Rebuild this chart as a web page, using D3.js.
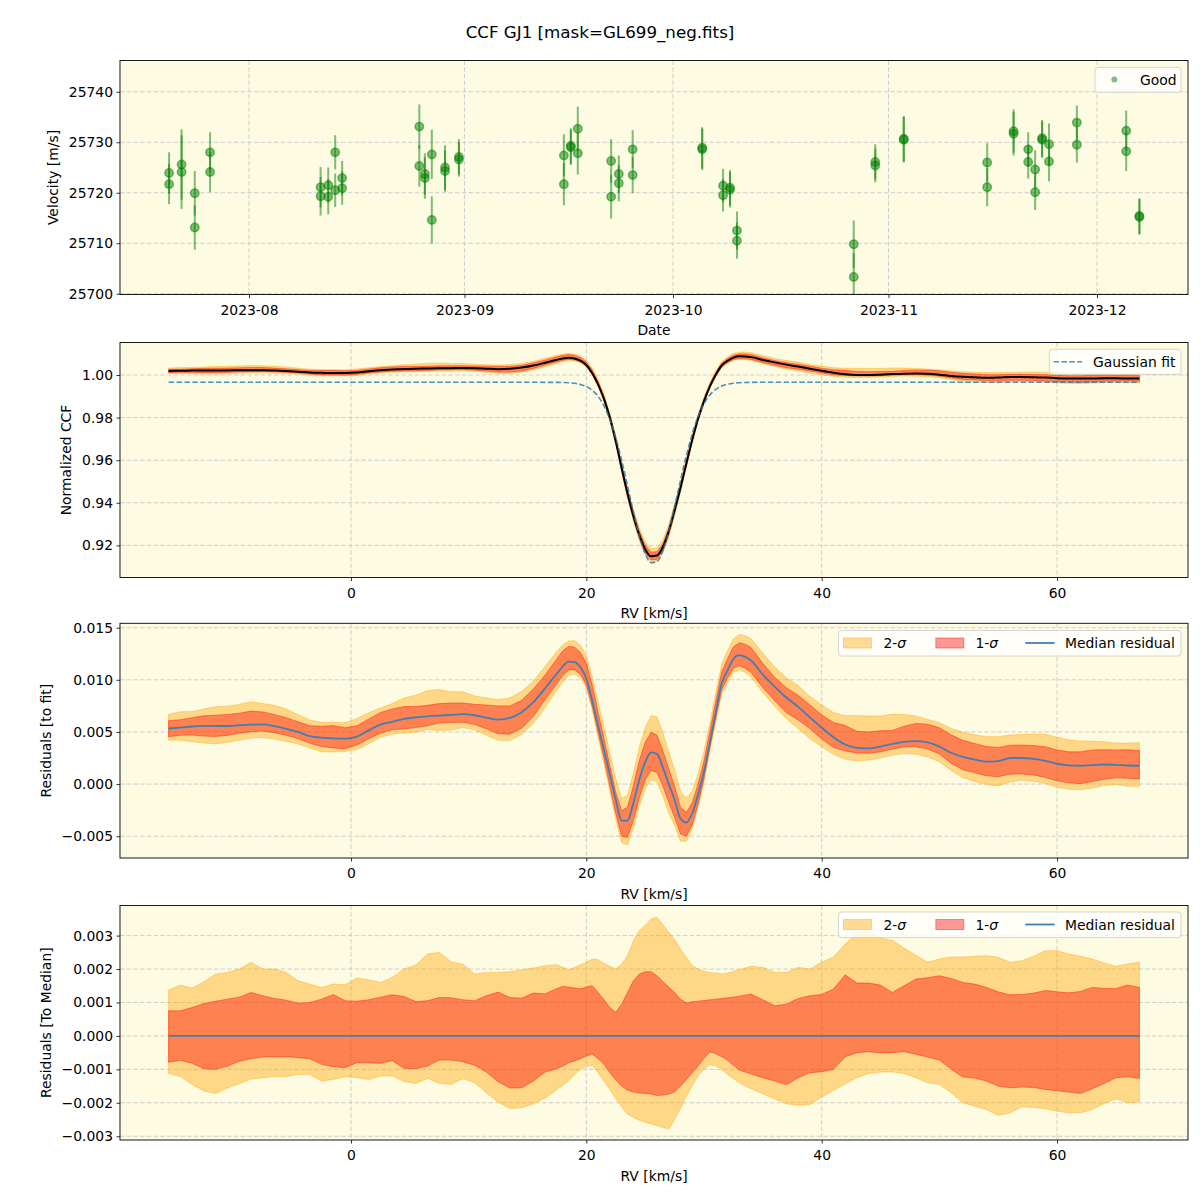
<!DOCTYPE html>
<html><head><meta charset="utf-8">
<script src="https://cdn.jsdelivr.net/npm/d3@7"></script>
<style>
body{margin:0;background:#fff}
text{font-family:"DejaVu Sans",sans-serif}
</style>
</head><body>
<svg id="c" width="1200" height="1200"></svg>
<script>
// ---------------- DATA ----------------
const chartTitle = "CCF GJ1 [mask=GL699_neg.fits]";

// Panel 1: RV time series
const obsDate = [
 "2023-07-20T12:00","2023-07-20T12:00","2023-07-22T07:12","2023-07-22T07:12",
 "2023-07-24T04:48","2023-07-24T04:48","2023-07-26T09:36","2023-07-26T09:36",
 "2023-08-11T07:12","2023-08-11T07:12","2023-08-12T09:36","2023-08-12T09:36",
 "2023-08-13T09:36","2023-08-13T09:36","2023-08-14T09:36","2023-08-14T09:36",
 "2023-08-25T12:00","2023-08-25T12:00","2023-08-26T07:12","2023-08-26T07:12",
 "2023-08-27T07:12","2023-08-27T07:12","2023-08-29T04:48","2023-08-29T04:48",
 "2023-08-31T04:48","2023-08-31T04:48","2023-09-15T07:12","2023-09-15T07:12",
 "2023-09-16T07:12","2023-09-16T07:12","2023-09-17T07:12","2023-09-17T07:12",
 "2023-09-22T02:24","2023-09-22T02:24","2023-09-23T04:48","2023-09-23T04:48",
 "2023-09-25T04:48","2023-09-25T04:48","2023-10-05T04:48","2023-10-05T04:48",
 "2023-10-08T04:48","2023-10-08T04:48","2023-10-09T04:48","2023-10-09T04:48",
 "2023-10-10T04:48","2023-10-10T04:48","2023-10-27T00:00","2023-10-27T00:00",
 "2023-10-30T02:24","2023-10-30T02:24","2023-11-03T04:48","2023-11-03T04:48",
 "2023-11-15T04:48","2023-11-15T04:48","2023-11-19T00:00","2023-11-19T00:00",
 "2023-11-21T02:24","2023-11-21T02:24","2023-11-22T02:24","2023-11-22T02:24",
 "2023-11-23T02:24","2023-11-23T02:24","2023-11-24T02:24","2023-11-24T02:24",
 "2023-11-28T02:24","2023-11-28T02:24","2023-12-05T04:48","2023-12-05T04:48",
 "2023-12-07T02:24","2023-12-07T02:24"];
const obsVel = [
 25723.9,25721.7,25725.6,25724.1,25719.9,25713.1,25728.0,25724.1,
 25721.1,25719.3,25721.5,25719.2,25728.0,25720.5,25722.9,25720.9,
 25733.1,25725.3,25723.7,25722.9,25727.6,25714.6,25725.0,25724.3,
 25727.1,25726.6,25727.4,25721.7,25729.3,25729.0,25732.7,25727.8,
 25726.3,25719.2,25723.7,25721.9,25728.6,25723.5,25728.9,25728.6,
 25721.4,25719.5,25721.0,25720.6,25712.5,25710.5,25709.8,25703.3,
 25726.1,25725.4,25730.7,25730.5,25726.0,25721.1,25732.2,25731.7,
 25728.6,25726.1,25724.6,25720.1,25730.8,25730.5,25729.6,25726.2,
 25733.9,25729.5,25732.3,25728.2,25715.4,25715.2];
const obsErr = [
 4.1,4.0,7.0,7.3,4.4,4.4,4.0,4.0,
 4.0,3.8,3.5,3.5,3.4,3.3,3.4,3.3,
 4.4,4.1,4.1,4.1,4.9,4.7,4.4,4.1,
 3.5,3.4,4.2,4.2,3.5,3.5,4.4,4.2,
 4.3,4.3,3.7,3.6,3.8,3.6,4.1,4.1,
 3.3,3.2,3.5,3.5,3.8,3.6,4.7,4.7,
 3.5,3.3,4.5,4.5,3.8,3.8,4.3,4.3,
 3.4,3.3,3.8,3.5,3.6,3.6,4.1,3.9,
 3.4,3.5,4.0,3.9,3.5,3.5];
const dateTicks = ["2023-08-01","2023-09-01","2023-10-01","2023-11-01","2023-12-01"];
const velTicks = [25700,25710,25720,25730,25740];

// Panels 2-4: CCF profile
const rv = [-15.5,-14.5,-13.5,-12.5,-11.5,-10.5,-9.5,-8.5,-7.5,-6.5,-5.5,-4.5,-3.5,-2.5,-1.5,-0.5,
 0.5,1.5,2.5,3.5,4.5,5.5,6.5,7.5,8.5,9.5,10.5,11.5,12.5,13.5,14.5,15.5,16.5,17.5,
 18,18.5,19,19.5,20,20.5,21,21.5,22,22.5,23,23.5,24,24.5,25,25.5,26,26.5,27,27.5,28,28.5,
 29,29.5,30,30.5,31,31.5,32,32.5,33,33.5,34,
 35,36,37,38,39,40,41,42,43,44,45,46,47,48,49,50,51,52,53,54,55,56,57,58,59,60,61,62,63,64,65,66,67];
const gaussFit = [0.99657,0.99657,0.99657,0.99657,0.99657,0.99657,0.99657,0.99657,0.99657,0.99657,0.99657,0.99657,0.99657,0.99657,0.99657,0.99657,
 0.99657,0.99657,0.99657,0.99657,0.99657,0.99657,0.99657,0.99657,0.99657,0.99657,0.99657,0.99657,0.99657,0.99657,0.99657,0.99657,0.99656,0.99653,
 0.99648,0.99636,0.99609,0.99557,0.99458,0.99283,0.99000,0.98550,0.97909,0.97052,0.95993,0.94793,0.93564,0.92452,0.91615,0.91186,0.91236,0.91754,0.92657,0.93806,0.95040,0.96219,
 0.97240,0.98054,0.98654,0.99064,0.99326,0.99483,0.99570,0.99616,0.99639,0.99650,0.99654,
 0.99657,0.99657,0.99657,0.99657,0.99657,0.99657,0.99657,0.99657,0.99657,0.99657,0.99657,0.99657,0.99657,0.99657,0.99657,0.99657,0.99657,
 0.99657,0.99657,0.99657,0.99657,0.99657,0.99657,0.99657,0.99657,0.99657,0.99657,0.99657,0.99657,0.99657,0.99657,0.99657,0.99657];
const medianResid = [0.00533,0.00542,0.00552,0.00558,0.00557,0.00557,0.00564,0.00570,0.00572,0.00555,0.00530,0.00500,0.00460,0.00445,0.00438,0.00435,
 0.00455,0.00515,0.00570,0.00597,0.00625,0.00640,0.00650,0.00657,0.00663,0.00670,0.00660,0.00638,0.00619,0.00635,0.00690,0.00785,0.00920,0.01060,
 0.01130,0.01175,0.01170,0.01120,0.01012,0.00800,0.00560,0.00330,0.00090,-0.00150,-0.00350,-0.00350,-0.00180,0.00040,0.00210,0.00305,0.00290,0.00160,0.00000,-0.00150,-0.00330,-0.00370,
 -0.00280,-0.00100,0.00120,0.00400,0.00685,0.00964,0.01090,0.01200,0.01236,0.01220,0.01185,
 0.01050,0.00935,0.00830,0.00740,0.00640,0.00540,0.00450,0.00380,0.00348,0.00342,0.00360,0.00385,0.00405,0.00412,0.00400,0.00360,0.00300,
 0.00260,0.00235,0.00215,0.00220,0.00250,0.00250,0.00242,0.00223,0.00195,0.00180,0.00176,0.00182,0.00188,0.00185,0.00178,0.00176];
// spread around the median, in units of 1e-3
const sig2HiMilli = [1.37,1.52,1.43,1.62,1.85,1.90,2.00,2.20,2.00,2.00,1.90,1.65,1.55,1.45,1.55,1.53,
 1.73,1.68,1.60,1.75,2.00,2.12,2.45,2.50,2.22,2.15,1.85,1.90,1.90,1.92,1.98,2.03,2.10,2.13,
 2.05,1.98,2.05,2.13,2.20,2.30,2.28,2.17,2.08,2.01,2.15,2.40,2.85,3.15,3.30,3.50,3.55,3.33,3.10,2.88,2.60,2.35,
 2.10,2.00,1.93,1.90,1.88,1.86,1.88,1.93,1.98,2.03,2.08,
 2.05,1.90,1.90,2.05,2.00,2.20,2.36,2.75,3.10,3.10,2.92,2.86,2.63,2.42,2.20,2.30,2.36,
 2.36,2.38,2.40,2.35,2.20,2.25,2.38,2.55,2.55,2.45,2.38,2.30,2.18,2.08,2.15,2.21];
const sig1HiMilli = [0.75,0.75,0.85,0.97,1.04,1.10,1.16,1.30,1.20,1.12,1.07,0.98,1.00,1.10,1.24,1.05,
 1.04,1.08,1.16,1.23,1.18,1.03,1.05,1.15,1.14,1.08,1.05,1.20,1.31,1.15,1.13,1.28,1.26,1.42,
 1.48,1.46,1.43,1.41,1.46,1.50,1.30,1.08,0.85,0.71,0.95,1.30,1.65,1.85,1.92,1.92,1.80,1.63,1.46,1.30,1.10,0.99,
 1.02,1.04,1.06,1.08,1.10,1.12,1.14,1.16,1.19,1.22,1.25,
 1.08,0.90,0.95,1.12,1.20,1.24,1.40,1.83,1.58,1.58,1.52,1.30,1.50,1.70,1.74,1.80,1.72,
 1.60,1.55,1.45,1.32,1.23,1.24,1.28,1.36,1.32,1.29,1.33,1.45,1.42,1.42,1.52,1.45];
const sig1LoMilli = [-0.79,-0.73,-0.82,-0.98,-1.00,-0.90,-0.76,-0.68,-0.63,-0.62,-0.62,-0.65,-0.68,-0.85,-0.92,-0.95,
 -0.80,-0.80,-0.82,-0.74,-0.97,-0.98,-0.90,-0.72,-0.72,-0.77,-0.88,-1.08,-1.37,-1.56,-1.55,-1.35,-1.08,-0.98,
 -0.90,-0.80,-0.75,-0.68,-0.60,-0.54,-0.68,-0.85,-1.10,-1.32,-1.50,-1.62,-1.68,-1.71,-1.72,-1.74,-1.78,-1.77,-1.74,-1.68,-1.50,-1.30,
 -1.10,-0.90,-0.67,-0.48,-0.53,-0.62,-0.73,-0.88,-1.02,-1.08,-1.14,
 -1.25,-1.35,-1.46,-1.25,-1.10,-1.07,-1.00,-0.62,-0.50,-0.47,-0.51,-0.50,-0.47,-0.55,-0.63,-0.72,-1.00,
 -1.23,-1.26,-1.35,-1.50,-1.55,-1.53,-1.54,-1.60,-1.64,-1.68,-1.72,-1.58,-1.42,-1.25,-1.22,-1.27];
const sig2LoMilli = [-1.12,-1.21,-1.45,-1.65,-1.72,-1.56,-1.43,-1.29,-1.25,-1.22,-1.22,-1.15,-1.15,-1.35,-1.30,-1.22,
 -1.24,-1.30,-1.20,-1.20,-1.36,-1.42,-1.27,-1.42,-1.45,-1.28,-1.40,-1.70,-1.98,-2.17,-2.15,-2.03,-1.86,-1.60,
 -1.48,-1.33,-1.15,-1.00,-0.90,-0.88,-1.10,-1.35,-1.60,-1.87,-2.12,-2.34,-2.44,-2.52,-2.58,-2.63,-2.68,-2.74,-2.78,-2.50,-2.17,-1.80,
 -1.48,-1.20,-1.00,-0.86,-0.90,-1.00,-1.15,-1.28,-1.40,-1.50,-1.58,
 -1.73,-1.88,-2.03,-2.07,-2.05,-1.83,-1.63,-1.43,-1.25,-1.12,-1.08,-1.08,-1.12,-1.25,-1.40,-1.45,-1.70,
 -2.00,-2.10,-2.20,-2.38,-2.30,-2.12,-2.14,-2.18,-2.25,-2.30,-2.30,-2.20,-2.02,-1.88,-2.00,-1.97];
const rvTicks = [0,20,40,60];
const ccfTicks = [0.92,0.94,0.96,0.98,1.00];
const residTicks = [-0.005,0,0.005,0.010,0.015];
const medTicks = [-0.003,-0.002,-0.001,0,0.001,0.002,0.003];

// ---------------- DERIVED ----------------
const spread = {
  s2hi: sig2HiMilli.map(v=>v/1000), s1hi: sig1HiMilli.map(v=>v/1000),
  s1lo: sig1LoMilli.map(v=>v/1000), s2lo: sig2LoMilli.map(v=>v/1000)
};
const ccfMedian = rv.map((r,i)=>gaussFit[i]+medianResid[i]);

// ---------------- LAYOUT ----------------
const svg = d3.select("#c");
svg.append("rect").attr("width",1200).attr("height",1200).attr("fill","#ffffff");
const L = 120, R = 1188;
const BG = "#fdfbe2", GRID = "#c8c8cc", FS = 13.9;
const P = [
  {top:60.5, bottom:294.5},
  {top:342.5, bottom:577.5},
  {top:623.3, bottom:858},
  {top:905.5, bottom:1140}
];
const ORANGE = "#ffa500", RED = "#ff0000", MEDC = "#3f7fb6";

svg.append("text").attr("x",600).attr("y",38).attr("text-anchor","middle")
  .attr("font-size",16.7).attr("fill","#000").text(chartTitle);

function panel(i, x, y, xTickVals, xFmt, yTickVals, yFmt, xlabel, ylabel, ylabX){
  const p = P[i];
  const g = svg.append("g");
  g.append("rect").attr("x",L).attr("y",p.top).attr("width",R-L).attr("height",p.bottom-p.top).attr("fill",BG);
  // grid
  const gg = g.append("g");
  xTickVals.forEach(t=>{
    gg.append("line").attr("x1",x(t)).attr("x2",x(t)).attr("y1",p.top).attr("y2",p.bottom);
  });
  yTickVals.forEach(t=>{
    gg.append("line").attr("x1",L).attr("x2",R).attr("y1",y(t)).attr("y2",y(t));
  });
  gg.selectAll("line").attr("stroke",GRID).attr("stroke-width",0.9).attr("stroke-dasharray","4.5,2.2");
  // clip
  svg.append("clipPath").attr("id","clip"+i).append("rect")
    .attr("x",L).attr("y",p.top).attr("width",R-L).attr("height",p.bottom-p.top);
  const data = svg.append("g").attr("clip-path",`url(#clip${i})`);
  // axes
  const ax = svg.append("g").attr("transform",`translate(0,${p.bottom})`)
    .call(d3.axisBottom(x).tickValues(xTickVals).tickFormat(xFmt).tickSizeInner(3.5).tickSizeOuter(0).tickPadding(3.5));
  const ay = svg.append("g").attr("transform",`translate(${L},0)`)
    .call(d3.axisLeft(y).tickValues(yTickVals).tickFormat(yFmt).tickSizeInner(3.5).tickSizeOuter(0).tickPadding(3.5));
  [ax,ay].forEach(a=>{
    a.select(".domain").remove();
    a.selectAll("line").attr("stroke","#000").attr("stroke-width",0.8);
    a.selectAll("text").attr("font-size",FS).attr("font-family","DejaVu Sans").attr("fill","#000");
  });
  ax.selectAll("text").attr("dy","0.95em");
  // spines
  svg.append("rect").attr("x",L).attr("y",p.top).attr("width",R-L).attr("height",p.bottom-p.top)
    .attr("fill","none").attr("stroke","#000").attr("stroke-width",0.9);
  svg.append("text").attr("x",(L+R)/2).attr("y",p.bottom+40.5).attr("text-anchor","middle")
    .attr("font-size",FS).text(xlabel);
  svg.append("text").attr("transform",`translate(${ylabX},${(p.top+p.bottom)/2}) rotate(-90)`)
    .attr("text-anchor","middle").attr("font-size",FS).text(ylabel);
  return data;
}

function legendBox(x0,y0,w,h){
  svg.append("rect").attr("x",x0).attr("y",y0).attr("width",w).attr("height",h).attr("rx",3)
    .attr("fill","#ffffff").attr("fill-opacity",0.8).attr("stroke","#cccccc").attr("stroke-width",0.8);
}
function sigmaLegend(top){
  const cy = top + 12.5;
  legendBox(838.5, top, 342.5, 25.5);
  svg.append("rect").attr("x",843.5).attr("y",cy-5).attr("width",28).attr("height",10)
    .attr("fill",ORANGE).attr("fill-opacity",0.4).attr("stroke",ORANGE).attr("stroke-opacity",0.4);
  const t1 = svg.append("text").attr("x",883.5).attr("y",cy+5).attr("font-size",FS);
  t1.append("tspan").text("2-");
  t1.append("tspan").attr("font-style","italic").text("σ");
  svg.append("rect").attr("x",935.8).attr("y",cy-5).attr("width",28).attr("height",10)
    .attr("fill",RED).attr("fill-opacity",0.4).attr("stroke",RED).attr("stroke-opacity",0.4);
  const t2 = svg.append("text").attr("x",975.4).attr("y",cy+5).attr("font-size",FS);
  t2.append("tspan").text("1-");
  t2.append("tspan").attr("font-style","italic").text("σ");
  svg.append("line").attr("x1",1025.3).attr("x2",1054.6).attr("y1",cy).attr("y2",cy)
    .attr("stroke",MEDC).attr("stroke-width",1.8);
  svg.append("text").attr("x",1065).attr("y",cy+5).attr("font-size",FS).text("Median residual");
}

// ---------------- PANEL 1 ----------------
const parseT = d3.timeParse("%Y-%m-%dT%H:%M");
const parseD = d3.timeParse("%Y-%m-%d");
const xT = d3.scaleTime().domain([parseT("2023-07-13T10:34"), parseT("2023-12-14T02:10")]).range([L,R]);
const y1 = d3.scaleLinear().domain([25699.84,25746.2]).range([P[0].bottom,P[0].top]);
const d1 = panel(0, xT, y1, dateTicks.map(parseD), d3.timeFormat("%Y-%m"), velTicks, d3.format("d"),
  "Date", "Velocity [m/s]", 58);
const obs = obsDate.map((d,i)=>({t:parseT(d), v:obsVel[i], e:obsErr[i]}));
d1.selectAll("line.eb").data(obs).join("line").attr("class","eb")
  .attr("x1",d=>xT(d.t)).attr("x2",d=>xT(d.t))
  .attr("y1",d=>y1(d.v-d.e)).attr("y2",d=>y1(d.v+d.e))
  .attr("stroke","#008000").attr("stroke-opacity",0.5).attr("stroke-width",2);
d1.selectAll("circle.pt").data(obs).join("circle").attr("class","pt")
  .attr("cx",d=>xT(d.t)).attr("cy",d=>y1(d.v)).attr("r",4.2)
  .attr("fill","#008000").attr("fill-opacity",0.5)
  .attr("stroke","#008000").attr("stroke-opacity",0.5).attr("stroke-width",1.5);
legendBox(1095,67.3,86,25);
svg.append("circle").attr("cx",1114.3).attr("cy",79.5).attr("r",3).attr("fill","#008000").attr("fill-opacity",0.5);
svg.append("text").attr("x",1140).attr("y",84.5).attr("font-size",FS).text("Good");

// ---------------- RV scale ----------------
const xR = d3.scaleLinear().domain([-19.63,71.13]).range([L,R]);

function bands(g, y, base){
  const a2 = d3.area().x((d,i)=>xR(rv[i])).y0((d,i)=>y(base[i]+spread.s2lo[i])).y1((d,i)=>y(base[i]+spread.s2hi[i]));
  const a1 = d3.area().x((d,i)=>xR(rv[i])).y0((d,i)=>y(base[i]+spread.s1lo[i])).y1((d,i)=>y(base[i]+spread.s1hi[i]));
  g.append("path").datum(rv).attr("d",a2).attr("fill",ORANGE).attr("fill-opacity",0.4)
    .attr("stroke",ORANGE).attr("stroke-opacity",0.4).attr("stroke-width",1);
  g.append("path").datum(rv).attr("d",a1).attr("fill",RED).attr("fill-opacity",0.4)
    .attr("stroke",RED).attr("stroke-opacity",0.4).attr("stroke-width",1);
}

// ---------------- PANEL 2 ----------------
const y2 = d3.scaleLinear().domain([0.90493,1.01526]).range([P[1].bottom,P[1].top]);
const d2 = panel(1, xR, y2, rvTicks, d3.format("d"), ccfTicks, d3.format(".2f"), "RV [km/s]", "Normalized CCF", 71);
bands(d2, y2, ccfMedian);
d2.append("path").datum(rv).attr("d", d3.line().x((d,i)=>xR(rv[i])).y((d,i)=>y2(ccfMedian[i])).curve(d3.curveMonotoneX))
  .attr("fill","none").attr("stroke","#000").attr("stroke-width",2);
d2.append("path").datum(rv).attr("d", d3.line().x((d,i)=>xR(rv[i])).y((d,i)=>y2(gaussFit[i])).curve(d3.curveMonotoneX))
  .attr("fill","none").attr("stroke","#1f77b4").attr("stroke-opacity",0.8).attr("stroke-width",1.6)
  .attr("stroke-dasharray","5.5,2.4");
legendBox(1049.4,349.3,131.6,25);
svg.append("line").attr("x1",1053.6).attr("x2",1082).attr("y1",361.8).attr("y2",361.8)
  .attr("stroke","#1f77b4").attr("stroke-opacity",0.8).attr("stroke-width",1.6).attr("stroke-dasharray","5.5,2.4");
svg.append("text").attr("x",1093).attr("y",366.8).attr("font-size",FS).text("Gaussian fit");

// ---------------- PANEL 3 ----------------
const y3 = d3.scaleLinear().domain([-0.00709,0.01542]).range([P[2].bottom,P[2].top]);
const d3p = panel(2, xR, y3, rvTicks, d3.format("d"), residTicks, d3.format(".3f"), "RV [km/s]", "Residuals [to fit]", 51);
bands(d3p, y3, medianResid);
d3p.append("path").datum(rv).attr("d", d3.line().x((d,i)=>xR(rv[i])).y((d,i)=>y3(medianResid[i])).curve(d3.curveMonotoneX))
  .attr("fill","none").attr("stroke",MEDC).attr("stroke-width",1.8);
sigmaLegend(630.5);

// ---------------- PANEL 4 ----------------
const y4 = d3.scaleLinear().domain([-0.003112,0.0039]).range([P[3].bottom,P[3].top]);
const d4 = panel(3, xR, y4, rvTicks, d3.format("d"), medTicks, d3.format(".3f"), "RV [km/s]", "Residuals [To Median]", 51);
const zeros = rv.map(()=>0);
bands(d4, y4, zeros);
d4.append("path").datum(rv).attr("d", d3.line().x((d,i)=>xR(rv[i])).y(()=>y4(0)))
  .attr("fill","none").attr("stroke",MEDC).attr("stroke-width",1.8);
sigmaLegend(912);
</script>
</body></html>
